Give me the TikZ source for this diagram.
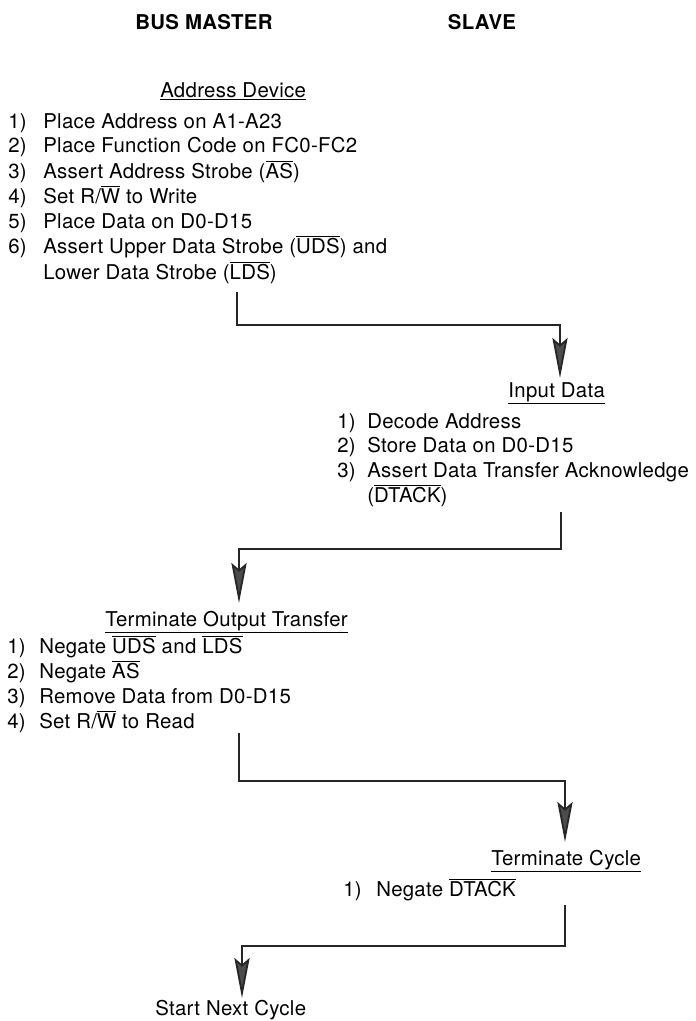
\documentclass[tikz,border=0pt]{standalone}
\usepackage{fontspec}
\setmainfont[LetterSpace=1.5]{TeX Gyre Heros}
\usetikzlibrary{arrows.meta}

\newcommand{\ovl}[1]{$\overline{\mbox{#1}}$}

\tikzset{
  txt/.style={inner sep=0pt,anchor=base west,font=\fontsize{14.5}{17.6}\selectfont},
  title/.style={inner sep=0pt,anchor=base,font=\fontsize{14.5}{17.6}\selectfont\bfseries},
  flow/.style={-{Stealth[length=1cm,width=0.38cm,inset=0.16cm,fill=black!70]},draw=black!85,line width=1.3pt}
}

\begin{document}
\begin{tikzpicture}[x=0.025cm,y=-0.025cm]
  \useasboundingbox (0,0) rectangle (696,1021);

  % Columns
  \node[title] (master) at (204,29) {BUS MASTER};
  \node[title] (slave) at (482,29) {SLAVE};

  % Address Device
  \node[txt] (addrhead) at (160,97) {\underline{Address Device}};
  \node[txt] (addrlist) at (8,128) {\begin{tabular}[t]{@{}p{0.875cm}@{}l@{}}
    1) & Place Address on A1-A23\\
    2) & Place Function Code on FC0-FC2\\
    3) & Assert Address Strobe (\ovl{AS})\\
    4) & Set R/\ovl{W} to Write\\
    5) & Place Data on D0-D15\\
    6) & Assert Upper Data Strobe (\ovl{UDS}) and\\
       & Lower Data Strobe (\ovl{LDS})
  \end{tabular}};

  % Input Data
  \node[txt] (inhead) at (508,397) {\underline{Input Data}};
  \node[txt] (inlist) at (337,428) {\begin{tabular}[t]{@{}p{0.75cm}@{}l@{}}
    1) & Decode Address\\
    2) & Store Data on D0-D15\\
    3) & Assert Data Transfer Acknowledge\\
       & (\ovl{DTACK})
  \end{tabular}};

  % Terminate Output Transfer
  \node[txt] (termhead) at (105,626) {\underline{Terminate Output Transfer}};
  \node[txt] (termlist) at (7,653) {\begin{tabular}[t]{@{}p{0.8cm}@{}l@{}}
    1) & Negate \ovl{UDS} and \ovl{LDS}\\
    2) & Negate \ovl{AS}\\
    3) & Remove Data from D0-D15\\
    4) & Set R/\ovl{W} to Read
  \end{tabular}};

  % Terminate Cycle
  \node[txt] (cyclehead) at (491,865) {\underline{Terminate Cycle}};
  \node[txt] (cyclelist) at (343,896) {\begin{tabular}[t]{@{}p{0.825cm}@{}l@{}}
    1) & Negate \ovl{DTACK}
  \end{tabular}};

  \node[txt] (nexthead) at (155,1015) {\underline{Start Next Cycle}};

  % hand-overs
  \coordinate (a1) at (237,292);
  \coordinate (b1) at (560,378);
  \coordinate (a2) at (561,512);
  \coordinate (b2) at (239,603);
  \coordinate (a3) at (239,733);
  \coordinate (b3) at (565,842);
  \coordinate (a4) at (565,905);
  \coordinate (b4) at (242,998);

  \draw[flow] (a1) -- ++(0,33) -| (b1);
  \draw[flow] (a2) -- ++(0,37) -| (b2);
  \draw[flow] (a3) -- ++(0,48) -| (b3);
  \draw[flow] (a4) -- ++(0,41) -| (b4);

\end{tikzpicture}
\end{document}
